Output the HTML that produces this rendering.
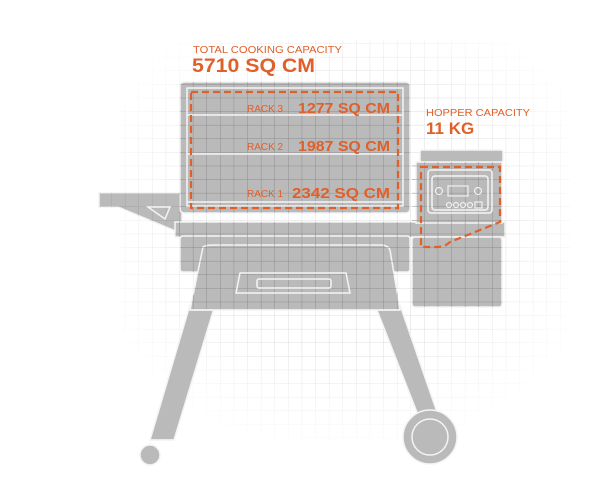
<!DOCTYPE html>
<html><head><meta charset="utf-8"><style>
html,body{margin:0;padding:0;background:#fff;width:600px;height:494px;overflow:hidden}
svg{display:block}
text{font-family:"Liberation Sans",sans-serif}
</style></head><body>
<svg width="600" height="494" viewBox="0 0 600 494" xmlns="http://www.w3.org/2000/svg">
<defs>
<pattern id="g" x="3" y="3" width="13.6" height="13.6" patternUnits="userSpaceOnUse">
<path d="M13.6 0V13.6M0 13.6H13.6" stroke="#dcdcdc" stroke-width="1" fill="none"/>
</pattern>
<pattern id="g2" x="3" y="3" width="13.6" height="13.6" patternUnits="userSpaceOnUse">
<path d="M13.6 0V13.6M0 13.6H13.6" stroke="#8e8e8e" stroke-width="1" fill="none"/>
</pattern>
<radialGradient id="fade" cx="0.5" cy="0.45" r="0.55">
<stop offset="0.55" stop-color="#fff" stop-opacity="0"/>
<stop offset="1" stop-color="#fff" stop-opacity="1"/>
</radialGradient>
<clipPath id="body">
<rect x="180" y="82" width="230" height="131" rx="4"/>
<rect x="175" y="222" width="330" height="15"/>
<rect x="180" y="236" width="230" height="36"/>
<rect x="412" y="162" width="90" height="145" rx="3"/>
<path d="M203 247H390L400 310H190Z"/>
</clipPath>
</defs>
<rect x="120" y="40" width="450" height="400" fill="url(#g)"/>
<rect x="100" y="20" width="490" height="440" fill="url(#fade)"/>
<g fill="#bababa" stroke="#f4f4f4" stroke-width="1.5">
<path d="M99 193H182V232H178L118 207H99Z"/>
<rect x="180" y="82" width="230" height="131" rx="4"/>
<rect x="175" y="222" width="330" height="15"/>
<rect x="180" y="236" width="230" height="36" rx="3"/>
<rect x="412" y="237" width="90" height="70" rx="3"/>
<rect x="416" y="162" width="86" height="61"/>
<rect x="420" y="150" width="83" height="12" rx="2"/>
<path d="M190 305L215 305L174 440L150 440Z"/>
<path d="M375 305L400 305L438 415L420 420Z"/>
<path d="M203 247Q205 245 215 245H380Q388 245 390 250L400 310H190Z"/>
<circle cx="430" cy="437" r="27"/>
<circle cx="150" cy="455" r="10"/>
</g>
<path d="M99 193H182V232H178L118 207H99Z" fill="url(#g2)" opacity="0.5"/>
<g clip-path="url(#body)"><rect x="170" y="80" width="340" height="240" fill="url(#g2)"/></g>
<g fill="none" stroke="#f4f4f4" stroke-width="1.5">
<rect x="187" y="88" width="216" height="118"/>
<line x1="187" y1="115" x2="403" y2="115"/>
<line x1="187" y1="154" x2="403" y2="154"/>
<line x1="187" y1="202" x2="403" y2="202"/>
<path d="M150 440L174 440" />
<circle cx="430" cy="437" r="18"/>
<path d="M190 310H400"/>
<path d="M240 273H346L350 293H236Z"/>
<rect x="257" y="279" width="74" height="9" rx="2"/>
<rect x="428" y="170" width="64" height="43" rx="3"/>
<rect x="432" y="176" width="56" height="34" rx="3"/>
<path d="M148 207L170 207L165 219Z"/>
</g>
<g fill="none" stroke="#f0f0f0" stroke-width="1.2">
<rect x="448" y="186" width="20" height="10"/>
<circle cx="439" cy="191" r="3.5"/><circle cx="478" cy="191" r="3.5"/>
<circle cx="449" cy="205" r="2.5"/><circle cx="456" cy="205" r="2.5"/><circle cx="463" cy="205" r="2.5"/><circle cx="470" cy="205" r="2.5"/>
<rect x="475" y="202" width="7" height="6"/>
</g>
<g fill="none" stroke="#e0602a" stroke-width="2.2" stroke-dasharray="7 4">
<rect x="191" y="92" width="207" height="116"/>
<path d="M421 167H500V222L450 242Q445 247 437 247H421Z"/>
</g>
<g fill="#e0602a">
<text x="193" y="53" font-size="10.5" textLength="149" lengthAdjust="spacingAndGlyphs">TOTAL COOKING CAPACITY</text>
<text x="192" y="72" font-size="19" font-weight="bold" textLength="123" lengthAdjust="spacingAndGlyphs">5710 SQ CM</text>
<text x="247" y="112" font-size="10">RACK 3</text>
<text x="298" y="113" font-size="14.5" font-weight="bold" textLength="92" lengthAdjust="spacingAndGlyphs">1277 SQ CM</text>
<text x="247" y="150" font-size="10">RACK 2</text>
<text x="298" y="151" font-size="14.5" font-weight="bold" textLength="92" lengthAdjust="spacingAndGlyphs">1987 SQ CM</text>
<text x="247" y="197" font-size="10">RACK 1</text>
<text x="292" y="198" font-size="14.5" font-weight="bold" textLength="98" lengthAdjust="spacingAndGlyphs">2342 SQ CM</text>
<text x="426" y="116" font-size="10.5" textLength="104" lengthAdjust="spacingAndGlyphs">HOPPER CAPACITY</text>
<text x="426" y="134" font-size="17" font-weight="bold">11 KG</text>
</g>
</svg>
</body></html>
